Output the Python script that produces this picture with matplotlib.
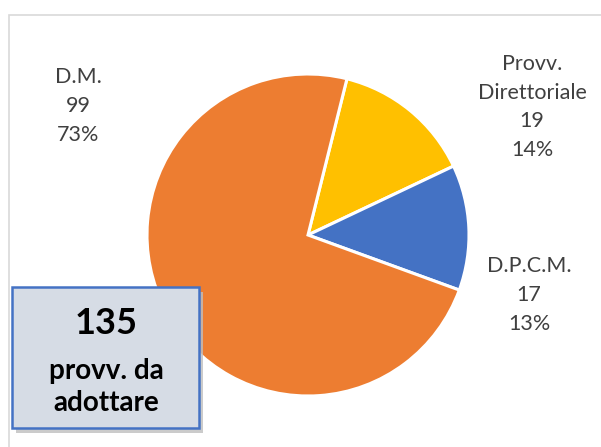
import matplotlib
matplotlib.use("Agg")
import matplotlib.pyplot as plt
from matplotlib.patches import Rectangle

labels = ["Provv.\nDirettoriale", "D.P.C.M.", "D.M."]
values = [19, 17, 99]
colors = ["#FFC000", "#4472C4", "#ED7D31"]
total_label = "provv. da\nadottare"

W, H = 601, 447
fig = plt.figure(figsize=(W / 100, H / 100), dpi=100)
ax = fig.add_axes([0, 0, 1, 1])
ax.set_xlim(0, W)
ax.set_ylim(0, H)
ax.set_aspect("equal")
ax.axis("off")

def Y(py):
    return H - py

# chart frame
ax.add_patch(Rectangle((9, Y(460)), 620, 445, fill=False, edgecolor="#D9D9D9", lw=1.2))

ax.pie(values, colors=colors, startangle=76, counterclock=False,
       center=(308, Y(235)), radius=161,
       wedgeprops=dict(edgecolor="white", linewidth=2.2))
ax.set_xlim(0, W)
ax.set_ylim(0, H)

total = sum(values)
label_pos = [(532, 107), (529, 295), (78, 106)]
for lab, v, (px, py) in zip(labels, values, label_pos):
    pct = round(100 * v / total)
    ax.text(px, Y(py), f"{lab}\n{v}\n{pct}%", ha="center", va="center",
            fontsize=15.5, color="#404040", family="Lato", linespacing=1.55)

# total box with shadow
ax.add_patch(Rectangle((16, Y(433)), 187, 141, facecolor="#BFBFBF", edgecolor="none", alpha=0.8))
ax.add_patch(Rectangle((12, Y(428)), 187, 141, facecolor="#D6DCE5", edgecolor="#4472C4", lw=1.8))
ax.text(106, Y(324), str(total), ha="center", va="center", fontsize=26,
        fontweight="bold", family="Lato", color="black")
ax.text(106, Y(387), total_label, ha="center", va="center", fontsize=20,
        fontweight="bold", family="Lato", color="black", linespacing=1.3)

fig.savefig("out.png", dpi=100)
